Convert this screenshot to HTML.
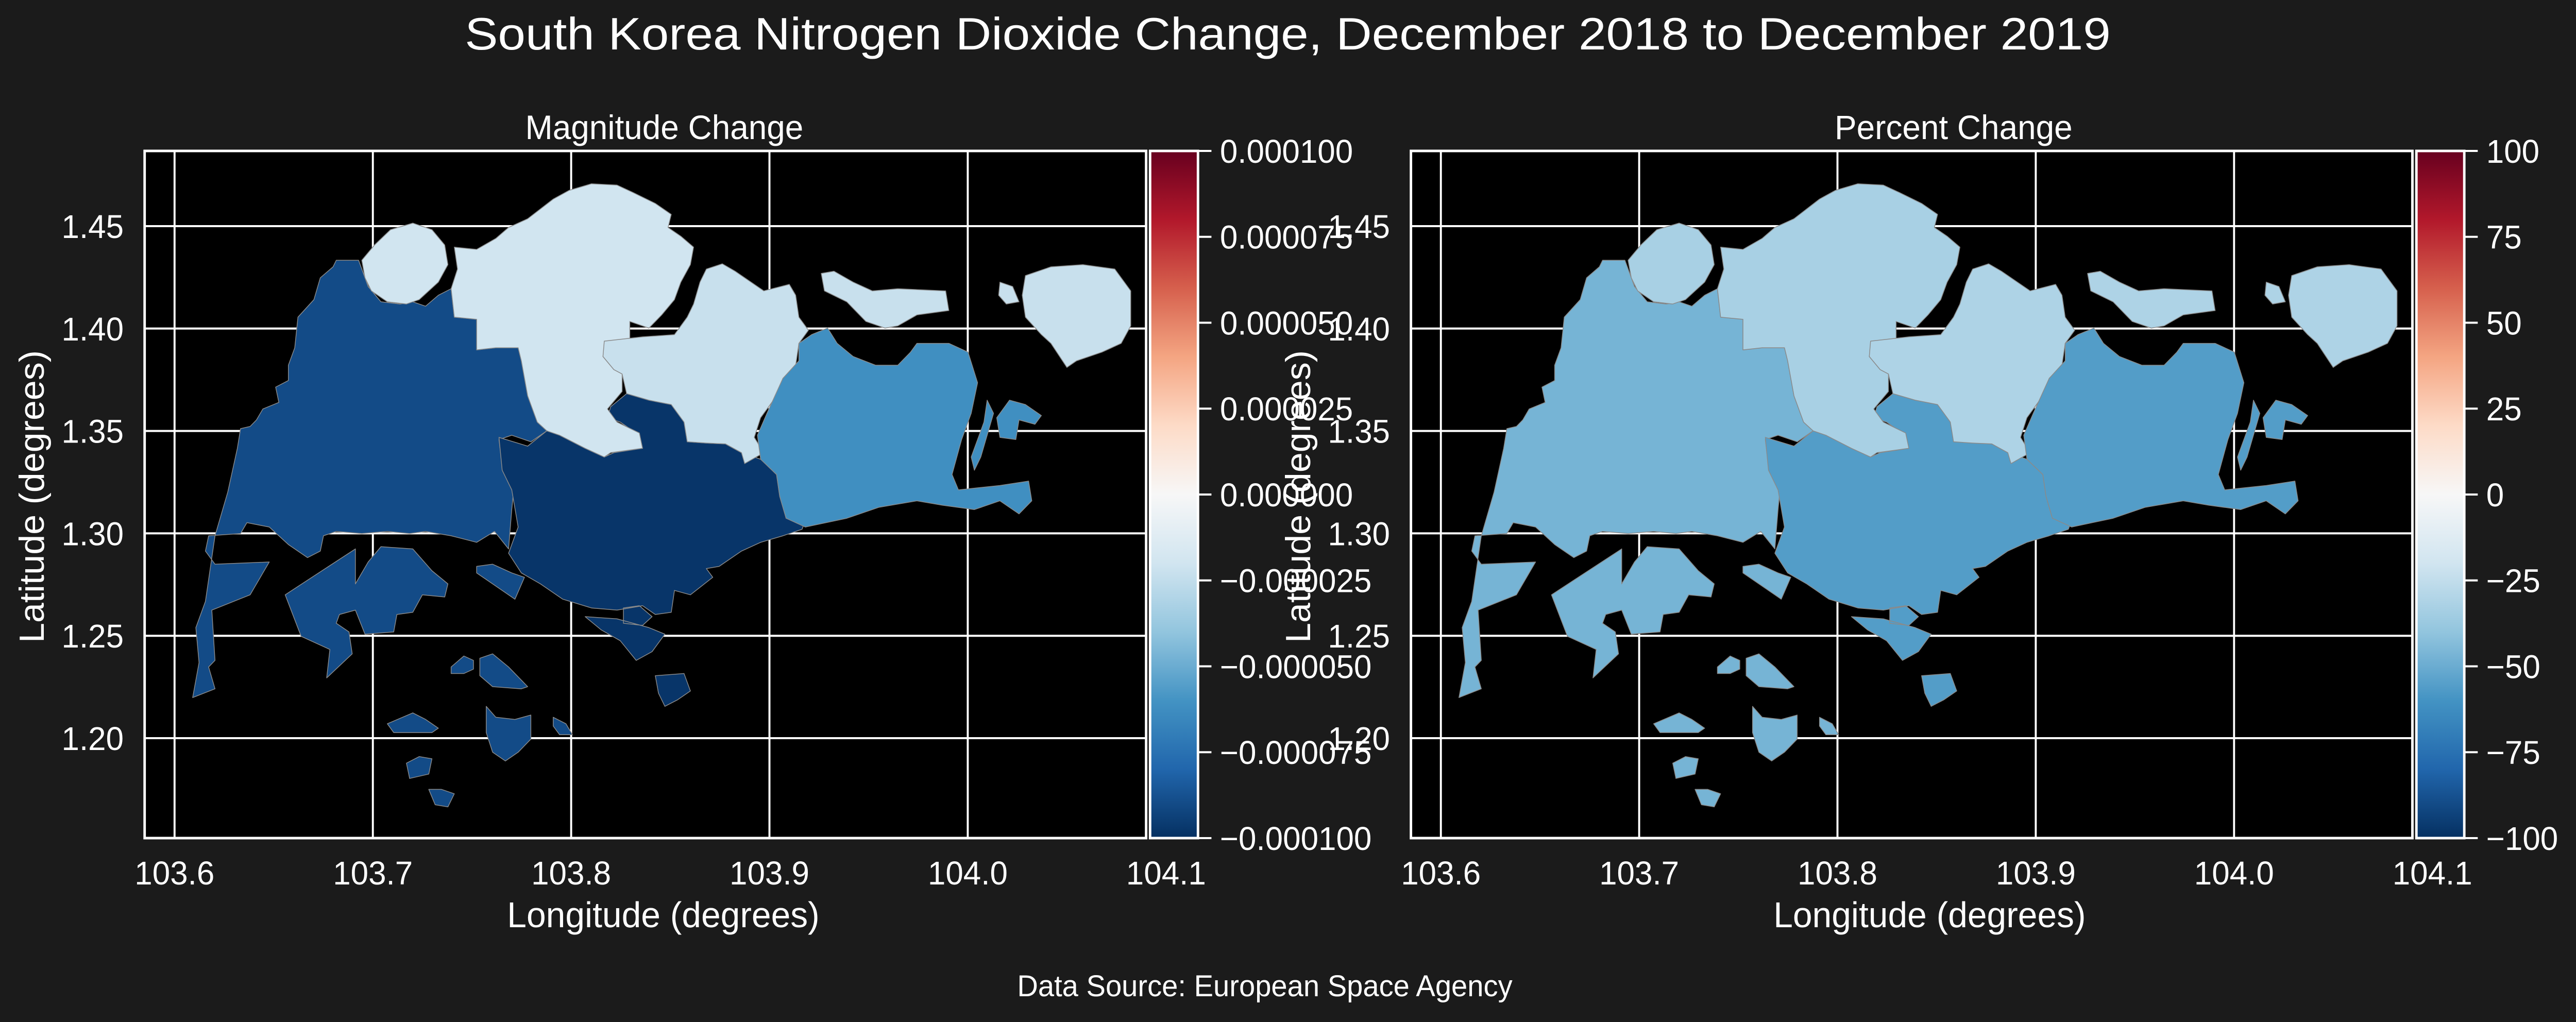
<!DOCTYPE html>
<html><head><meta charset="utf-8"><title>South Korea Nitrogen Dioxide Change</title>
<style>html,body{margin:0;padding:0;background:#1b1b1b;width:100vw;height:100vh;overflow:hidden}svg{display:block;width:100vw;height:100vh}text{font-family:"Liberation Sans",Arial,sans-serif;fill:#fff}</style>
</head><body>
<svg id="fig" viewBox="0 0 5165 1984" preserveAspectRatio="none" xmlns="http://www.w3.org/2000/svg">
<rect width="5165" height="1984" fill="#1b1b1b"/>
<text x="2582" y="96" font-size="88" text-anchor="middle" textLength="3300" lengthAdjust="spacingAndGlyphs">South Korea Nitrogen Dioxide Change, December 2018 to December 2019</text>
<text x="2536" y="1934" font-size="58" text-anchor="middle">Data Source: European Space Agency</text>
<g id="panels"></g>
</svg>
<script>
// ---- data ----
const regionNames = ["west","central","north","north-east","east"];
const magnitudeValues = [-0.00009, -0.000098, -0.00002, -0.000023, -0.000062];
const percentValues = [-47, -56, -33, -31, -56];
const lonTicks = [103.6, 103.7, 103.8, 103.9, 104.0, 104.1];
const latTicks = [1.20, 1.25, 1.30, 1.35, 1.40, 1.45];
const magTicks = [0.0001, 0.000075, 0.00005, 0.000025, 0, -0.000025, -0.00005, -0.000075, -0.0001];
const magTickLabels = ["0.000100","0.000075","0.000050","0.000025","0.000000","\u22120.000025","\u22120.000050","\u22120.000075","\u22120.000100"];
const pctTicks = [100, 75, 50, 25, 0, -25, -50, -75, -100];
const pctTickLabels = ["100","75","50","25","0","\u221225","\u221250","\u221275","\u2212100"];
// geographic grid: lon = 103.585 + gx*0.0003218, lat = 1.4867 - gy*0.0002135
const GEO_ORIGIN = [103.585, 1.4867];
const GEO_STEP = [0.0003218, -0.0002135];
const regionShapes = [
 [ // west
  [300,250,335,250,350,310,370,345,400,350,420,345,440,355,460,330,480,315,485,380,520,385,520,455,550,450,585,450,590,480,600,560,615,620,630,640,605,665,575,650,555,660,560,720,585,750,578,775,575,820,570,910,548,870,520,895,480,880,440,870,415,875,380,870,340,875,300,870,280,880,275,915,255,930,225,900,195,860,160,850,150,875,100,880,95,915,110,945,195,940,165,1015,105,1050,110,1165,100,1180,110,1230,75,1250,85,1170,80,1090,95,1030,110,880,130,780,145,680,150,635,165,630,175,615,185,590,210,575,205,540,225,525,225,490,235,450,240,380,265,340,275,290,295,265],
  [220,1015,330,910,330,990,350,940,370,905,420,910,450,960,475,990,470,1020,435,1015,420,1055,395,1060,390,1100,345,1105,330,1050,305,1060,300,1080,320,1100,325,1150,285,1205,290,1140,245,1110],
  [520,950,545,945,575,965,595,975,580,1025,520,965],
  [480,1180,500,1155,515,1165,515,1185,500,1195,480,1195],
  [525,1160,545,1150,570,1180,600,1225,590,1230,545,1225,525,1200],
  [380,1310,420,1285,440,1300,460,1320,450,1330,390,1330],
  [535,1270,550,1295,580,1300,605,1290,605,1345,585,1375,565,1395,545,1375,535,1330],
  [640,1295,660,1310,670,1335,650,1335,640,1315],
  [410,1400,430,1385,450,1390,445,1425,415,1435],
  [445,1460,465,1460,485,1470,475,1500,455,1495]
 ],
 [ // central
  [555,655,600,675,630,640,650,650,690,680,720,700,735,690,780,680,775,650,745,620,725,610,730,585,755,555,790,570,825,580,845,620,850,665,880,668,910,670,935,690,965,705,990,740,995,790,1005,840,1035,845,1030,865,1000,880,965,895,935,915,900,950,880,955,890,975,855,1015,830,1005,825,1055,800,1060,780,1040,740,1050,700,1045,655,1025,620,990,590,965,570,920,585,860,575,775,560,730],
  [690,1065,740,1070,790,1090,815,1105,795,1145,770,1165,745,1120,715,1095],
  [750,1045,775,1040,795,1065,780,1085,750,1080],
  [800,1200,845,1195,855,1235,835,1255,815,1270,805,1240]
 ],
 [ // north
  [340,250,360,215,385,180,420,165,450,180,470,215,475,260,460,300,430,340,410,350,380,345,355,320,345,290],
  [485,220,520,225,550,200,570,175,600,155,640,110,665,90,700,75,740,78,765,95,800,120,825,145,820,175,840,195,860,220,855,260,840,300,830,340,810,375,790,405,760,390,760,430,725,435,718,470,735,500,748,510,748,550,725,590,740,620,775,645,780,680,730,690,720,700,690,680,650,650,630,640,615,620,600,560,590,480,585,450,550,450,520,455,520,385,485,380,480,315,490,270]
 ],
 [ // north-east
  [720,435,780,425,830,420,850,380,860,350,870,300,880,270,905,258,925,275,950,300,970,320,1010,305,1020,330,1025,380,1040,410,1025,440,1020,490,1000,520,990,560,965,610,955,655,970,690,940,715,935,690,910,670,880,668,850,665,845,620,825,580,790,570,755,555,748,510,735,500,718,470],
  [1060,280,1080,275,1110,300,1140,320,1180,315,1255,320,1260,365,1210,375,1180,400,1160,405,1130,390,1100,345,1065,320],
  [1380,285,1420,265,1470,260,1520,270,1545,320,1545,400,1530,440,1500,460,1460,480,1445,495,1420,440,1405,420,1380,380,1375,330],
  [1340,300,1360,310,1370,345,1350,350,1338,330]
 ],
 [ // east
  [1045,420,1070,405,1085,440,1110,470,1145,490,1180,490,1200,460,1210,440,1260,440,1290,460,1305,530,1295,600,1280,660,1265,740,1275,775,1340,765,1385,755,1390,800,1370,830,1340,800,1300,820,1250,810,1210,800,1150,815,1100,840,1035,860,1005,840,995,790,990,740,965,705,960,650,975,600,1000,520,1025,480,1025,440],
  [1320,570,1330,600,1310,700,1300,730,1295,700,1315,620],
  [1355,570,1380,580,1405,605,1395,625,1370,615,1365,660,1340,655,1335,610]
 ]
];
// ---- colormap RdBu ----
const RDBU = ["#053061","#2166ac","#4393c3","#92c5de","#d1e5f0","#f7f7f7","#fddbc7","#f4a582","#d6604d","#b2182b","#67001f"];
function hex2rgb(h){return [1,3,5].map(i=>parseInt(h.substr(i,2),16));}
function rdbu(t){
  t=Math.max(0,Math.min(1,t));const p=t*10;const i=Math.min(9,Math.floor(p));const f=p-i;
  const a=hex2rgb(RDBU[i]),b=hex2rgb(RDBU[i+1]);
  return "rgb("+a.map((v,k)=>Math.round(v+(b[k]-v)*f)).join(",")+")";
}
const NS="http://www.w3.org/2000/svg";
function el(tag,attrs,parent){const e=document.createElementNS(NS,tag);for(const k in attrs)e.setAttribute(k,attrs[k]);parent.appendChild(e);return e;}
const panelsG=document.getElementById("panels");
const AX_W=2008, AX_TOP=293, AX_BOT=1627;
const panels=[
 {id:"magnitude",left:290,title:"Magnitude Change",titleX:1332,vals:magnitudeValues,vmin:-0.0001,vmax:0.0001,ticks:magTicks,labels:magTickLabels},
 {id:"percent",left:2829,title:"Percent Change",titleX:3917,vals:percentValues,vmin:-100,vmax:100,ticks:pctTicks,labels:pctTickLabels}
];
panels.forEach((P,pi)=>{
  const off=P.left-290;
  const xs=lon=>350+off+(lon-103.6)*3976;
  const ys=lat=>439+(1.45-lat)*3976;
  const g=el("g",{},panelsG);
  
  
  const cid="clip"+pi;
  const cp=el("clipPath",{id:cid},g);
  el("rect",{x:P.left,y:AX_TOP,width:AX_W,height:AX_BOT-AX_TOP},cp);
  const bg=el("rect",{x:P.left,y:AX_TOP,width:AX_W,height:AX_BOT-AX_TOP,fill:"#000"},g);
  
  
  const grid=el("g",{"clip-path":"url(#"+cid+")",stroke:"#fff","stroke-width":4},g);
  
  
  lonTicks.forEach(v=>{el("line",{x1:xs(v),x2:xs(v),y1:AX_TOP,y2:AX_BOT},grid);});
  latTicks.forEach(v=>{el("line",{x1:P.left,x2:P.left+AX_W,y1:ys(v),y2:ys(v)},grid);});
  const map=el("g",{"clip-path":"url(#"+cid+")"},g);
  
  
  regionShapes.forEach((parts,ri)=>{
    const col=rdbu((P.vals[ri]-P.vmin)/(P.vmax-P.vmin));
    let d="";
    parts.forEach(pts=>{
      for(let i=0;i<pts.length;i+=2){
        const lon=GEO_ORIGIN[0]+pts[i]*GEO_STEP[0], lat=GEO_ORIGIN[1]+pts[i+1]*GEO_STEP[1];
        d+=(i?"L":"M")+xs(lon).toFixed(1)+" "+ys(lat).toFixed(1);
      }
      d+="Z";
    });
    const p=el("path",{d:d,fill:col,stroke:"#8a8a8a","stroke-width":1.5,"stroke-linejoin":"round"},map);
    
    
  });
  const fr=el("rect",{x:P.left,y:AX_TOP,width:AX_W,height:AX_BOT-AX_TOP,fill:"none",stroke:"#fff","stroke-width":5},g);
  
  
  lonTicks.forEach(v=>{
    const t=el("text",{x:xs(v),y:1717,"font-size":64,"text-anchor":"middle"},g);
    t.textContent=v.toFixed(1);
    
    
  });
  latTicks.forEach(v=>{
    const t=el("text",{x:P.left-42,y:ys(v)+23,"font-size":64,"text-anchor":"end"},g);
    t.textContent=v.toFixed(2);
    
    
  });
  const xl=el("text",{x:1330+off,y:1800,"font-size":70,"text-anchor":"middle"},g);
  xl.textContent="Longitude (degrees)";
  
  
  const yl=el("text",{x:0,y:0,"font-size":70,"text-anchor":"middle",transform:"translate("+(88+off)+",964) rotate(-90)"},g);
  yl.textContent="Latitude (degrees)";
  
  
  const tt=el("text",{x:P.titleX,y:270,"font-size":66,"text-anchor":"middle"},g);
  tt.textContent=P.title;
  
  
  const cbx=P.left+AX_W+8, cbw=96;
  const gid="grad"+pi;
  const lg=el("linearGradient",{id:gid,x1:0,y1:1,x2:0,y2:0},g);
  for(let i=0;i<=20;i++){el("stop",{offset:i/20,"stop-color":rdbu(i/20)},lg);}
  const cb=el("rect",{x:cbx,y:AX_TOP,width:cbw,height:AX_BOT-AX_TOP,fill:"url(#"+gid+")",stroke:"#fff","stroke-width":5},g);
  
  
  const cy=v=>AX_TOP+(P.vmax-v)/(P.vmax-P.vmin)*(AX_BOT-AX_TOP);
  P.ticks.forEach((v,i)=>{
    el("line",{x1:cbx+cbw,x2:cbx+cbw+27,y1:cy(v),y2:cy(v),stroke:"#fff","stroke-width":4},g);
    const t=el("text",{x:cbx+cbw+44,y:cy(v)+23,"font-size":64},g);
    t.textContent=P.labels[i];
    
    
  });
});
</script>
</body></html>
